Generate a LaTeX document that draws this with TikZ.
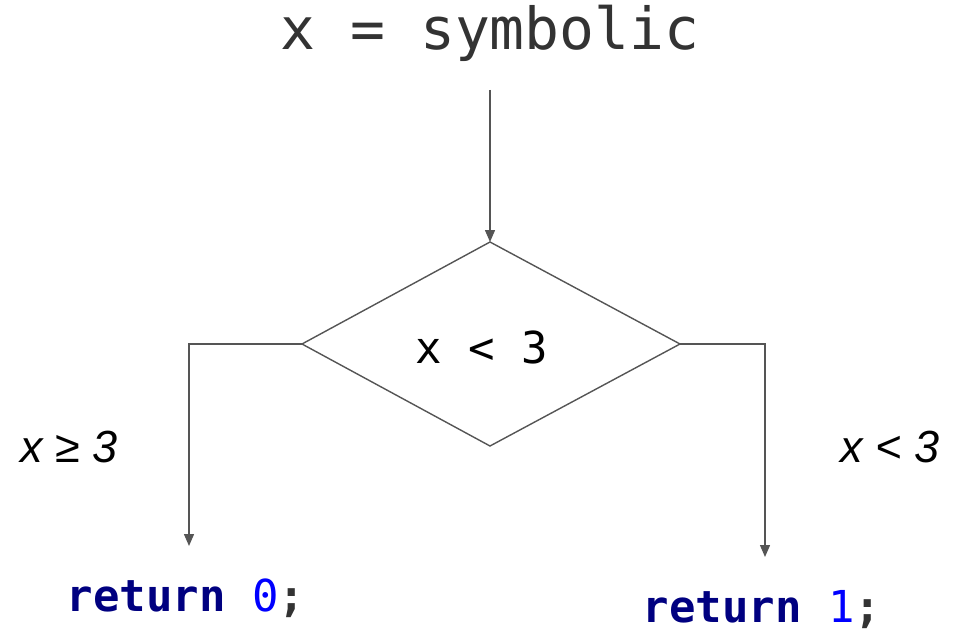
\documentclass[tikz,border=0pt]{standalone}
\usepackage{fontspec}
\setmainfont{Liberation Sans}
\setmonofont{DejaVu Sans Mono}
\usetikzlibrary{arrows.meta}
\definecolor{linec}{HTML}{555555}
\definecolor{titlec}{HTML}{333333}
\definecolor{kw}{HTML}{000080}
\definecolor{num}{HTML}{0000FF}
\tikzset{
  conn/.style={draw=linec, line width=1.4pt, -{Triangle[length=12pt,width=10pt]}},
  plain/.style={draw=linec, line width=1.4pt},
  lbl/.style={inner sep=0pt, anchor=base},
}
\begin{document}
\begin{tikzpicture}[x=1pt,y=-1pt]
\useasboundingbox (0,0) rectangle (957,631);
\node[lbl, text=titlec, font=\ttfamily\fontsize{58}{60}\selectfont] (title) at (490,50) {x = symbolic};
\coordinate (top) at (490,90);
\coordinate (dt) at (490,242);
\coordinate (dl) at (302,344);
\coordinate (dr) at (680,344);
\coordinate (db) at (490,446);
\draw[plain] (dt) -- (dr) -- (db) -- (dl) -- cycle;
\node[lbl, font=\ttfamily\fontsize{44}{46}\selectfont] (cond) at (482,363) {x < 3};
\draw[conn] (top) -- (dt);
\coordinate (le) at (189,546);
\coordinate (re) at (765,557);
\draw[conn] (dl) -| (le);
\draw[conn] (dr) -| (re);
\node[lbl, font=\itshape\fontsize{45}{47}\selectfont] (lf) at (69,462) {x ≥ 3};
\node[lbl, font=\itshape\fontsize{45}{47}\selectfont] (rt) at (890,462) {x < 3};
\node[lbl, font=\ttfamily\fontsize{44}{46}\selectfont] (r0) at (186,611) {\textbf{\textcolor{kw}{return}} \textcolor{num}{0}\textbf{\textcolor{titlec}{;}}};
\node[lbl, font=\ttfamily\fontsize{44}{46}\selectfont] (r1) at (762,622) {\textbf{\textcolor{kw}{return}} \textcolor{num}{1}\textbf{\textcolor{titlec}{;}}};
\end{tikzpicture}
\end{document}
